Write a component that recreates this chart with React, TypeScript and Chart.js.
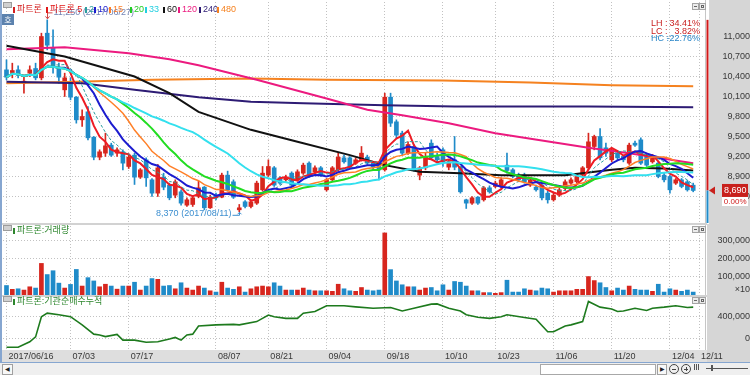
import React, { useEffect, useRef } from 'react';
import { Chart, registerables } from 'chart.js';

Chart.register(...registerables);

const NARROW = "'Liberation Sans Narrow', 'Liberation Sans', Arial, sans-serif";
const MIXED = "'Liberation Sans Narrow', 'Liberation Sans', 'Noto Sans CJK KR', sans-serif";
const KR = "'Noto Sans CJK KR', 'Noto Sans', sans-serif";
const TICK_SIZE = 9;

// ---------------- data ----------------
const tradingMonths: [string, number[]][] = [
  ['06', [16, 19, 20, 21, 22, 23, 26, 27, 28, 29, 30]],
  ['07', [3, 4, 5, 6, 7, 10, 11, 12, 13, 14, 17, 18, 19, 20, 21, 24, 25, 26, 27, 28, 31]],
  ['08', [1, 2, 3, 4, 7, 8, 9, 10, 11, 14, 16, 17, 18, 21, 22, 23, 24, 25, 28, 29, 30, 31]],
  ['09', [1, 4, 5, 6, 7, 8, 11, 12, 13, 14, 15, 18, 19, 20, 21, 22, 25, 26, 27, 28, 29]],
  ['10', [10, 11, 12, 13, 16, 17, 18, 19, 20, 23, 24, 25, 26, 27, 30, 31]],
  ['11', [1, 2, 3, 6, 7, 8, 9, 10, 13, 14, 15, 16, 17, 20, 21, 22, 23, 24, 27, 28, 29, 30]],
  ['12', [1, 4, 5, 6, 7, 8]],
];
const dates = tradingMonths.flatMap(([m, ds]) => ds.map((d) => `2017/${m}/${String(d).padStart(2, '0')}`));

const axisLabels = ['2017/06/16', '07/03', '07/17', '08/07', '08/21', '09/04', '09/18', '10/10', '10/23', '11/06', '11/20', '12/04', '12/11'];

const opens = [10500, 10460, 10500, 10300, 10450, 10520, 10380, 11050, 10830, 10540,
  10200, 10320, 10090, 9750, 9870, 9490, 9190, 9250, 9370, 9250,
  9270, 9050, 9220, 8890, 9150, 8850, 8650, 8890, 8770, 8620,
  8670, 8470, 8480, 8600, 8740, 8430, 8620, 8590, 8920, 8820,
  8400, 8520, 8450, 8500, 8700, 8920, 9030, 8880, 8850, 8950,
  8850, 8950, 9100, 8970, 9030, 8700, 8850, 9000, 9180, 9180,
  9100, 9150, 9190, 9100, 9100, 9000, 10090, 9720, 9550, 9250,
  9350, 8920, 9030, 9400, 9200, 9300, 9040, 9150, 9040, 8550,
  8500, 8590, 8550, 8730, 8750, 8750, 9070, 9000, 8920, 8920,
  8770, 8740, 8770, 8650, 8550, 8620, 8720, 8800, 8820, 8920,
  9030, 9350, 9500, 9330, 9150, 9250, 9200, 9100, 9400, 9450,
  9220, 9120, 9100, 8920, 8900, 8800, 8850, 8820, 8770];
const highs = [10650, 10600, 10560, 10420, 10560, 10600, 11050, 11250, 11100, 10600,
  10450, 10380, 10100, 9900, 9950, 9500, 9300, 9550, 9400, 9330,
  9300, 9220, 9250, 9020, 9180, 8870, 9080, 8950, 8800, 8850,
  8700, 8580, 8600, 8830, 8750, 8620, 8650, 8950, 8980, 8850,
  8480, 8540, 8550, 8830, 9050, 9150, 9050, 8900, 8920, 8970,
  9000, 9100, 9120, 9060, 9050, 8870, 9050, 9250, 9220, 9200,
  9180, 9350, 9220, 9120, 9120, 10150, 10150, 9750, 9580, 9420,
  9380, 9050, 9250, 9450, 9250, 9330, 9150, 9500, 9050, 8560,
  8600, 8600, 8750, 8760, 8830, 8880, 9250, 9020, 8950, 8950,
  8870, 8770, 8800, 8680, 8650, 8730, 8850, 8880, 8930, 9050,
  9550, 9520, 9620, 9400, 9320, 9280, 9220, 9400, 9430, 9480,
  9250, 9220, 9120, 8950, 8920, 8870, 8870, 8840, 8800];
const lows = [10350, 10380, 10380, 10150, 10400, 10350, 10350, 10800, 10450, 10300,
  10100, 10050, 9700, 9650, 9450, 9150, 9150, 9200, 9200, 9200,
  9000, 9020, 8780, 8870, 8750, 8600, 8600, 8700, 8550, 8580,
  8470, 8450, 8450, 8580, 8400, 8420, 8550, 8580, 8680, 8570,
  8370, 8430, 8430, 8480, 8680, 8900, 8750, 8780, 8830, 8750,
  8830, 8930, 8900, 8950, 8900, 8680, 8830, 8980, 9100, 9020,
  9080, 9130, 9080, 9000, 8850, 8980, 9650, 9480, 9220, 9230,
  8980, 8850, 9000, 9150, 9120, 9050, 9000, 9000, 8650, 8420,
  8480, 8480, 8530, 8650, 8730, 8730, 8950, 8880, 8820, 8800,
  8750, 8680, 8550, 8500, 8530, 8600, 8700, 8780, 8800, 8900,
  9000, 9300, 9150, 9200, 9120, 9150, 9120, 9080, 9350, 9080,
  9050, 9100, 8880, 8820, 8650, 8780, 8730, 8680, 8670];
const closes = [10390, 10490, 10420, 10330, 10500, 10380, 11000, 10870, 10540, 10390,
  10380, 10090, 9750, 9800, 9480, 9190, 9270, 9360, 9220, 9300,
  9100, 9190, 8890, 9000, 8880, 8650, 9030, 8740, 8580, 8820,
  8500, 8550, 8580, 8730, 8430, 8590, 8580, 8920, 8700, 8590,
  8430, 8450, 8520, 8800, 8950, 9050, 8770, 8800, 8890, 8770,
  8970, 9070, 8920, 9030, 8920, 8850, 9030, 9190, 9120, 9040,
  9150, 9250, 9100, 9040, 9000, 10090, 9700, 9520, 9250, 9380,
  9000, 9030, 9200, 9180, 9150, 9120, 9120, 9040, 8670, 8500,
  8580, 8500, 8730, 8670, 8800, 8850, 8990, 8900, 8850, 8820,
  8850, 8700, 8580, 8550, 8620, 8700, 8820, 8850, 8900, 9030,
  9420, 9500, 9180, 9250, 9300, 9180, 9150, 9370, 9370, 9100,
  9070, 9190, 8900, 8850, 8700, 8850, 8750, 8700, 8690];
// volume in displayed units (x10)
const volumes = [52000, 31000, 34000, 27000, 45000, 38000, 173000, 112000, 133000, 65000,
  38000, 58000, 140000, 49000, 95000, 77000, 45000, 59000, 49000, 32000,
  49000, 49000, 70000, 27000, 49000, 90000, 86000, 49000, 52000, 34000,
  67000, 38000, 27000, 49000, 38000, 23000, 16000, 70000, 38000, 31000,
  45000, 16000, 34000, 45000, 49000, 45000, 67000, 49000, 27000, 27000,
  27000, 38000, 27000, 23000, 23000, 23000, 20000, 59000, 34000, 23000,
  20000, 41000, 27000, 23000, 27000, 340000, 139000, 77000, 56000, 45000,
  45000, 27000, 38000, 41000, 23000, 56000, 27000, 74000, 70000, 49000,
  23000, 23000, 13000, 13000, 9000, 13000, 81000, 16000, 16000, 34000,
  27000, 23000, 38000, 34000, 16000, 23000, 23000, 23000, 31000, 31000,
  101000, 79000, 67000, 41000, 23000, 38000, 27000, 49000, 31000, 27000,
  27000, 20000, 59000, 16000, 34000, 27000, 20000, 27000, 16000];

// institutional cumulative net buying, read at bar indices
const flowBars = [0, 2, 4, 5, 6, 7, 9, 11, 13, 15, 16, 17, 19, 20, 22, 24, 26, 28, 29, 30,
  31, 32, 33, 36, 39, 40, 43, 45, 46, 48, 50, 51, 53, 55, 58, 60, 63, 66, 68, 70,
  73, 74, 76, 78, 79, 81, 83, 85, 86, 89, 91, 93, 94, 96, 97, 99, 100, 102, 104, 105,
  106, 108, 110, 111, 113, 115, 117, 118];
const flowValues = [-160000, -160000, -60000, 30000, 400000, 465000, 435000, 400000, 250000, 80000,
  65000, 35000, 75000, -30000, -30000, -70000, -60000, -10000, 20000, -30000,
  65000, 80000, 230000, 250000, 260000, 250000, 310000, 430000, 400000, 370000,
  370000, 465000, 495000, 600000, 600000, 580000, 555000, 570000, 505000, 555000,
  630000, 635000, 555000, 505000, 435000, 390000, 370000, 400000, 435000, 385000,
  355000, 125000, 125000, 230000, 250000, 310000, 680000, 575000, 540000, 495000,
  505000, 555000, 515000, 555000, 575000, 600000, 570000, 575000];

// long moving averages
const ma60Bars = [0, 10, 22, 28, 33, 42, 50, 59, 65, 71, 78, 85, 96, 100, 104, 108, 113, 118];
const ma60Vals = [10860, 10700, 10400, 10150, 9870, 9600, 9420, 9220, 9070, 8970, 8950, 8920, 8920, 8960, 9000, 9030, 9020, 8990];
const ma120Bars = [0, 10, 21, 28, 33, 43, 55, 62, 68, 76, 84, 100, 107, 118];
const ma120Vals = [10810, 10840, 10750, 10660, 10570, 10350, 10070, 9900, 9820, 9700, 9550, 9330, 9250, 9100];
const ma240Bars = [0, 13, 22, 33, 42, 51, 65, 77, 100, 118];
const ma240Vals = [10320, 10300, 10200, 10090, 10020, 10000, 9970, 9950, 9950, 9940];
const ma480Bars = [0, 12, 25, 42, 55, 75, 90, 104, 118];
const ma480Vals = [10300, 10320, 10350, 10370, 10350, 10340, 10310, 10270, 10255];

const shortPeriods = [5, 7, 10, 15, 20, 33];

const priceTicks = [8600, 8900, 9200, 9500, 9800, 10100, 10400, 10700, 11000];
const volumeTicks = [31500, 100000, 200000, 300000];
const flowTicks = [0, 400000];

const legendLabels = ['파트론', '파트론 5', '2', '10', '15', '20', '33', '60', '120', '240', '480'];
const lastChangeText = '0.00%';

// ---------------- styles ----------------
const UP = '#d7261e';
const DOWN = '#1f8bc9';
const GRID = '#c2c2c2';
const AXIS_BG = '#d6d6d6';
const STRIP_BG = '#dedede';
const TICK_COLOR = '#383838';
const shortColors = ['#ee1c24', '#2b9e9e', '#1c1ccf', '#ff7f27', '#22dd22', '#33e0ee'];
const shortWidths = [2, 1, 2, 1.5, 2, 2];
const legendColors = ['#d42020', '#e01818', '#2b9e9e', '#1c1ccf', '#ff7f27', '#22cc22', '#22cfe0', '#111111', '#ec1a7f', '#2d1b74', '#f58220'];
const legendLefts = [13, 46, 85, 94, 109, 130, 145, 163, 178, 199, 217];

const X_MIN = -0.6;
const X_MAX = 120.2;
const AXIS_W = 44;

const axisTickIdx = axisLabels.map((l) => {
  const i = dates.findIndex((d) => d.endsWith(l));
  return i < 0 ? dates.length : i;
});
const fmt = (v: number) => Math.round(v).toLocaleString('en-US');
const barIdx = closes.map((_, i) => i);
const candleColors = barIdx.map((i) => (closes[i] >= opens[i] ? UP : DOWN));

function sma(p: number) {
  return barIdx.map((i) => {
    const s = Math.max(0, i - p + 1);
    let sum = 0;
    for (let k = s; k <= i; k++) sum += closes[k];
    return { x: i, y: sum / (i - s + 1) };
  });
}
const pts = (bars: number[], vals: number[]) => bars.map((b, i) => ({ x: b, y: vals[i] }));

function textWidth(labels: string[], size: number) {
  const c = document.createElement('canvas').getContext('2d')!;
  c.font = `normal ${size}px ${NARROW}`;
  return Math.max(...labels.map((l) => c.measureText(l).width));
}

function xAxis(withLabels: boolean): any {
  return {
    type: 'linear',
    min: X_MIN,
    max: X_MAX,
    offset: false,
    afterBuildTicks: (s: any) => {
      s.ticks = axisTickIdx.map((v) => ({ value: v }));
    },
    afterFit: (s: any) => {
      s.height = withLabels ? 12 : 0;
      s.paddingLeft = 0;
      s.paddingRight = 0;
    },
    grid: { color: GRID, drawTicks: false, offset: false, lineWidth: 1 },
    border: { display: false, dash: [1, 2] },
    ticks: withLabels
      ? {
          autoSkip: false,
          maxRotation: 0,
          minRotation: 0,
          align: 'start',
          labelOffset: 2,
          padding: 1.5,
          color: TICK_COLOR,
          font: { family: NARROW, size: TICK_SIZE },
          callback: (_v: any, i: number) => axisLabels[i],
        }
      : { display: false },
  };
}

function yAxis(min: number, max: number, ticks: number[], label: (v: number) => string, gridColor?: any): any {
  const widest = textWidth(ticks.map(label), TICK_SIZE);
  return {
    type: 'linear',
    position: 'right',
    min,
    max,
    beginAtZero: false,
    afterBuildTicks: (s: any) => {
      s.ticks = ticks.map((v) => ({ value: v }));
    },
    afterFit: (s: any) => {
      s.width = AXIS_W;
      s.paddingTop = 0;
      s.paddingBottom = 0;
    },
    grid: { color: gridColor || GRID, drawTicks: false, lineWidth: 1 },
    border: { display: false, dash: [1, 2] },
    ticks: {
      autoSkip: false,
      crossAlign: 'far',
      padding: Math.max(0, 41.5 - widest),
      color: TICK_COLOR,
      font: { family: NARROW, size: TICK_SIZE },
      callback: (v: any) => label(Number(v)),
    },
  };
}

const common: any = {
  responsive: false,
  animation: false,
  devicePixelRatio: 1,
  events: [],
  plugins: { legend: { display: false }, tooltip: { enabled: false } },
};

const mainDecor = {
  id: 'mainDecor',
  beforeDraw(chart: any) {
    const { ctx, width, height, chartArea: ca } = chart;
    ctx.save();
    ctx.fillStyle = AXIS_BG;
    ctx.fillRect(ca.right + 3, 0, width - ca.right - 3, height);
    ctx.restore();
  },
  afterDraw(chart: any) {
    const { ctx, chartArea: ca, scales } = chart;
    const xs = scales.x;
    const ys = scales.y;
    const hi = Math.max(...highs);
    const lo = Math.min(...lows);
    const hiI = highs.indexOf(hi);
    const loI = lows.indexOf(lo);
    const last = closes[closes.length - 1];
    const yHi = ys.getPixelForValue(hi);
    const yLo = ys.getPixelForValue(lo);
    const yLast = ys.getPixelForValue(last);
    ctx.save();
    // plot right border
    ctx.fillStyle = '#c6c6c6';
    ctx.fillRect(ca.right - 1, 0, 1, ca.bottom);
    // period range bar
    ctx.fillStyle = '#d01818';
    ctx.fillRect(ca.right + 0.5, yHi, 2, yLast - yHi);
    ctx.fillStyle = DOWN;
    ctx.fillRect(ca.right + 0.5, yLast, 2, ca.bottom - yLast);

    // high annotation
    const hx = Math.round(xs.getPixelForValue(hiI)) + 0.5;
    ctx.lineWidth = 1;
    ctx.strokeStyle = '#d04848';
    ctx.beginPath();
    ctx.moveTo(hx, yHi - 1);
    ctx.lineTo(hx, yHi - 7);
    ctx.lineTo(hx + 5, yHi - 7);
    ctx.stroke();
    ctx.beginPath();
    ctx.moveTo(hx - 2, yHi - 3.5);
    ctx.lineTo(hx, yHi - 1);
    ctx.lineTo(hx + 2, yHi - 3.5);
    ctx.stroke();
    ctx.font = `9px ${NARROW}`;
    ctx.textBaseline = 'middle';
    ctx.textAlign = 'left';
    ctx.fillStyle = '#7484b4';
    ctx.fillText(`${fmt(hi)} (${dates[hiI]})`, hx + 6, yHi - 7);

    // low annotation
    const lx = Math.round(xs.getPixelForValue(loI)) + 0.5;
    ctx.strokeStyle = '#3d8fd0';
    ctx.beginPath();
    ctx.moveTo(lx - 7, yLo + 3.5);
    ctx.lineTo(lx, yLo + 3.5);
    ctx.lineTo(lx, yLo + 0.5);
    ctx.stroke();
    ctx.beginPath();
    ctx.moveTo(lx - 2, yLo + 2.5);
    ctx.lineTo(lx, yLo + 0.5);
    ctx.lineTo(lx + 2, yLo + 2.5);
    ctx.stroke();
    ctx.fillStyle = '#3d8fd0';
    ctx.textAlign = 'right';
    ctx.fillText(`${fmt(lo)} (${dates[loI]})`, lx - 8, yLo + 2);

    // LH / LC / HC
    const rows: [string, number, string][] = [
      ['LH', (hi / lo - 1) * 100, '#c81e1e'],
      ['LC', (last / lo - 1) * 100, '#c81e1e'],
      ['HC', (last / hi - 1) * 100, '#2a86c8'],
    ];
    rows.forEach(([k, v, c], r) => {
      const yy = 24 + r * 7.5;
      ctx.fillStyle = c;
      ctx.textAlign = 'left';
      ctx.fillText(`${k} :`, ca.right - 55, yy);
      ctx.textAlign = 'right';
      ctx.fillText(`${v.toFixed(2)}%`, ca.right - 6, yy);
    });

    // current price marker
    ctx.fillStyle = '#c8201c';
    ctx.beginPath();
    ctx.moveTo(ca.right + 3, yLast);
    ctx.lineTo(ca.right + 9, yLast - 4);
    ctx.lineTo(ca.right + 9, yLast + 4);
    ctx.closePath();
    ctx.fill();
    ctx.fillRect(ca.right + 16, yLast - 6.5, 26, 13);
    ctx.fillStyle = '#ffffff';
    ctx.font = `9px ${NARROW}`;
    ctx.textAlign = 'right';
    ctx.fillText(fmt(last), ca.right + 40.5, yLast + 0.5);
    ctx.fillRect(ca.right + 16, yLast + 6.5, 26, 9);
    ctx.fillStyle = '#d02020';
    ctx.font = `8px ${NARROW}`;
    ctx.fillText(lastChangeText, ca.right + 40.5, yLast + 11);
    ctx.restore();
  },
};

const sideDecor = (strip: boolean) => ({
  id: 'sideDecor',
  beforeDraw(chart: any) {
    const { ctx, width, height, chartArea: ca } = chart;
    ctx.save();
    if (strip) {
      ctx.fillStyle = STRIP_BG;
      ctx.fillRect(0, ca.bottom, width, height - ca.bottom);
    }
    ctx.fillStyle = AXIS_BG;
    ctx.fillRect(ca.right + 1, 0, width - ca.right - 1, height);
    ctx.fillStyle = '#c6c6c6';
    ctx.fillRect(ca.right - 1, 0, 1, ca.bottom);
    ctx.restore();
  },
});

function mainConfig(): any {
  const shortSets = shortPeriods.map((p, k) => ({
    type: 'line',
    data: sma(p),
    borderColor: shortColors[k],
    borderWidth: shortWidths[k],
    borderDash: k === 1 ? [3, 2] : [],
    pointRadius: 0,
    tension: 0,
    fill: false,
    order: 9 - k,
  }));
  const longSet = (d: any[], color: string, order: number) => ({
    type: 'line',
    data: d,
    borderColor: color,
    borderWidth: 2,
    pointRadius: 0,
    tension: 0,
    fill: false,
    order,
  });
  return {
    type: 'bar',
    data: {
      datasets: [
        {
          type: 'bar',
          data: barIdx.map((i) => ({ x: i, y: [lows[i], highs[i]] })),
          backgroundColor: candleColors,
          barThickness: 1,
          grouped: false,
          order: 30,
        },
        {
          type: 'bar',
          data: barIdx.map((i) => ({ x: i, y: [Math.min(opens[i], closes[i]), Math.max(opens[i], closes[i])] })),
          backgroundColor: candleColors,
          barThickness: 4,
          minBarLength: 1,
          grouped: false,
          order: 29,
        },
        longSet(pts(ma480Bars, ma480Vals), '#f58220', 20),
        longSet(pts(ma240Bars, ma240Vals), '#2d1b74', 19),
        longSet(pts(ma120Bars, ma120Vals), '#ec1a7f', 18),
        longSet(pts(ma60Bars, ma60Vals), '#111111', 17),
        ...shortSets,
      ],
    },
    options: {
      ...common,
      layout: { autoPadding: false, padding: { left: 3, top: 2, right: 0, bottom: 1 } },
      scales: {
        x: xAxis(false),
        y: yAxis(8202, 11518, priceTicks, fmt),
      },
    },
    plugins: [mainDecor],
  };
}

function volumeConfig(): any {
  const label = (v: number) => (v < 50000 ? '×10' : fmt(v));
  return {
    type: 'bar',
    data: {
      datasets: [
        {
          type: 'bar',
          data: barIdx.map((i) => ({ x: i, y: volumes[i] })),
          backgroundColor: candleColors,
          barThickness: 4,
          grouped: false,
        },
      ],
    },
    options: {
      ...common,
      layout: { autoPadding: false, padding: { left: 3, top: 2, right: 0, bottom: 1 } },
      scales: {
        x: xAxis(false),
        y: yAxis(0, 378000, volumeTicks, label, (c: any) => (c.tick && c.tick.value < 50000 ? 'rgba(0,0,0,0)' : GRID)),
      },
    },
    plugins: [sideDecor(false)],
  };
}

function flowConfig(): any {
  return {
    type: 'line',
    data: {
      datasets: [
        {
          type: 'line',
          data: pts(flowBars, flowValues),
          borderColor: '#1d7a1d',
          borderWidth: 1.6,
          pointRadius: 0,
          tension: 0,
          fill: false,
        },
      ],
    },
    options: {
      ...common,
      layout: { autoPadding: false, padding: { left: 3, top: 1, right: 0, bottom: 0 } },
      scales: {
        x: xAxis(true),
        y: yAxis(-211000, 761500, flowTicks, fmt),
      },
    },
    plugins: [sideDecor(true)],
  };
}

const abs = (s: React.CSSProperties): React.CSSProperties => ({ position: 'absolute', ...s });

function PanelIcon({ top }: { top: number }) {
  return <div style={abs({ left: 3, top, width: 7, height: 4, background: '#d0d0d0', border: '1px solid #9c9c9c' })} />;
}
function PanelButtons({ top }: { top: number }) {
  return (
    <>
      <div style={abs({ left: 692, top, width: 5, height: 5, background: '#ececec', border: '1px solid #a4a4a4' })}>
        <div style={abs({ left: 1, top: 2, width: 3, height: 1, background: '#666' })} />
      </div>
      <div style={abs({ left: 699, top, width: 5, height: 5, background: '#ececec', border: '1px solid #a4a4a4' })}>
        <div style={abs({ left: 1, top: 1, width: 1, height: 1, border: '1px solid #666' })} />
      </div>
    </>
  );
}
function PanelTitle({ top, text }: { top: number; text: string }) {
  return (
    <div style={abs({ left: 13, top, height: 11, lineHeight: '11px', fontSize: 9, fontFamily: MIXED, color: '#2d862d', whiteSpace: 'nowrap' })}>
      <span style={{ display: 'inline-block', width: 2, height: 6, background: '#2d862d', marginRight: 2, verticalAlign: 'middle' }} />
      {text}
    </div>
  );
}

export default function App() {
  const aRef = useRef<HTMLCanvasElement>(null);
  const bRef = useRef<HTMLCanvasElement>(null);
  const cRef = useRef<HTMLCanvasElement>(null);

  useEffect(() => {
    document.body.style.margin = '0';
    Chart.defaults.font.family = NARROW;
    Chart.defaults.color = TICK_COLOR;
    const charts = [
      new Chart(aRef.current as HTMLCanvasElement, mainConfig()),
      new Chart(bRef.current as HTMLCanvasElement, volumeConfig()),
      new Chart(cRef.current as HTMLCanvasElement, flowConfig()),
    ];
    return () => charts.forEach((c) => c.destroy());
  }, []);

  return (
    <div style={{ position: 'fixed', left: 0, top: 0, width: 750, height: 375, background: '#ffffff', overflow: 'hidden' }}>
      <canvas ref={aRef} width={750} height={224} style={abs({ left: 0, top: 0 })} />
      <canvas ref={bRef} width={750} height={72} style={abs({ left: 0, top: 224 })} />
      <canvas ref={cRef} width={750} height={66} style={abs({ left: 0, top: 296 })} />

      {/* panel separators */}
      <div style={abs({ left: 0, top: 223, width: 707, height: 2, background: '#d2d2d2' })} />
      <div style={abs({ left: 0, top: 294.5, width: 707, height: 2, background: '#d2d2d2' })} />
      {/* left border */}
      <div style={abs({ left: 0, top: 0, width: 2, height: 362, background: '#86a6d0' })} />

      {/* main header */}
      <PanelIcon top={2} />
      <div style={abs({ left: 2, top: 14, width: 12, height: 11, background: '#5c82ae', color: '#fff', fontSize: 8, lineHeight: '11px', textAlign: 'center', fontFamily: KR })}>호</div>
      {legendLabels.map((t, i) => (
        <div key={t + i} style={abs({ left: legendLefts[i], top: 4, height: 11, lineHeight: '11px', fontSize: 9, fontFamily: MIXED, color: legendColors[i], whiteSpace: 'nowrap' })}>
          <span style={{ display: 'inline-block', width: 2, height: 6, background: legendColors[i], marginRight: 2, verticalAlign: 'middle' }} />
          {t}
        </div>
      ))}
      <PanelButtons top={3} />

      {/* volume header */}
      <PanelIcon top={225} />
      <PanelTitle top={225} text="파트론:거래량" />
      <PanelButtons top={226} />

      {/* flow header */}
      <PanelIcon top={296} />
      <PanelTitle top={296} text="파트론:기관순매수누적" />
      <PanelButtons top={297} />

      {/* bottom scroll row */}
      <div style={abs({ left: 0, top: 362, width: 750, height: 13, background: '#efefef', borderTop: '1px solid #86a6d0', boxSizing: 'border-box' })} />
      <div style={abs({ left: 2, top: 364, width: 9, height: 9, background: '#f8f8f8', border: '1px solid #a0a0a0', fontSize: 6, lineHeight: '9px', textAlign: 'center', color: '#222' })}>◀</div>
      <div style={abs({ left: 540, top: 364, width: 114, height: 9, background: '#ffffff', border: '1px solid #a8a8a8' })} />
      <div style={abs({ left: 657, top: 364, width: 8, height: 9, background: '#f8f8f8', border: '1px solid #a0a0a0', fontSize: 6, lineHeight: '9px', textAlign: 'center', color: '#222' })}>▶</div>
      <div style={abs({ left: 669, top: 364, width: 8, height: 8, borderRadius: 5, border: '1px solid #444' })}>
        <div style={abs({ left: 2, top: 3.5, width: 4, height: 1, background: '#444' })} />
      </div>
      <div style={abs({ left: 681, top: 364, width: 8, height: 8, borderRadius: 5, border: '1px solid #444' })}>
        <div style={abs({ left: 2, top: 3.5, width: 4, height: 1, background: '#444' })} />
        <div style={abs({ left: 3.5, top: 2, width: 1, height: 4, background: '#444' })} />
      </div>
      <div style={abs({ left: 694, top: 364, width: 1, height: 6, background: '#555' })} />
      <div style={abs({ left: 696, top: 364, width: 1, height: 6, background: '#555' })} />
      <div style={abs({ left: 698, top: 364, width: 1, height: 6, background: '#555' })} />
      <div style={abs({ left: 706, top: 368, width: 42, height: 1, background: '#555' })} />
      <div style={abs({ left: 711, top: 365, width: 2, height: 6, background: '#555' })} />
    </div>
  );
}
